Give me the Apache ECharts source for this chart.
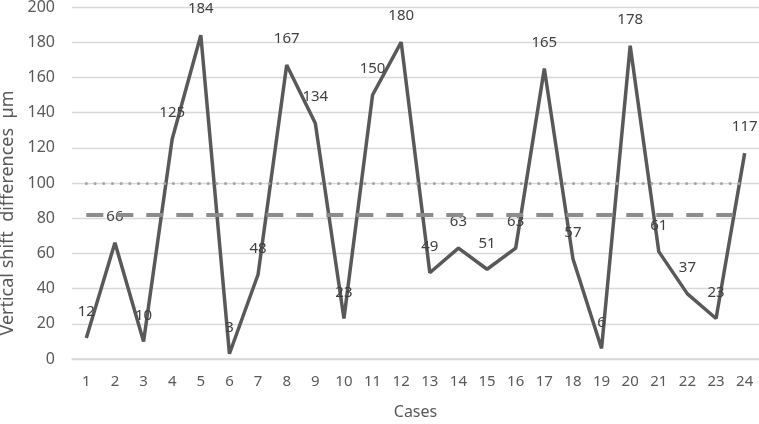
<!DOCTYPE html>
<html>
<head>
<meta charset="utf-8">
<script src="https://cdn.jsdelivr.net/npm/echarts@6/dist/echarts.min.js"></script>
<style>html,body{margin:0;padding:0;background:#fff}#c{width:759px;height:424px}</style>
</head>
<body>
<div id="c"></div>
<script>
const cases = ['1','2','3','4','5','6','7','8','9','10','11','12','13','14','15','16','17','18','19','20','21','22','23','24'];
const shiftDiff = [12,66,10,125,184,3,48,167,134,23,150,180,49,63,51,63,165,57,6,178,61,37,23,117];
const dottedRef = 100;
const dashedRef = 82;
const yTicks = {min:0, max:200, interval:20};

const font = 'Noto Sans';
const chart = echarts.init(document.getElementById('c'));
chart.setOption({
  animation:false,
  backgroundColor:'#fff',
  grid:{left:72, right:0, top:7, bottom:65, outerBoundsMode:'none', containLabel:false},
  xAxis:{
    type:'category', data:cases, boundaryGap:true,
    name:'Cases', nameLocation:'middle', nameGap:45,
    nameTextStyle:{color:'#595959', fontSize:16, fontFamily:font},
    axisLine:{show:true, lineStyle:{color:'#d9d9d9', width:1.5}},
    axisTick:{show:false},
    axisLabel:{color:'#595959', fontSize:15, fontFamily:font, margin:15, interval:0}
  },
  yAxis:{
    type:'value', min:yTicks.min, max:yTicks.max, interval:yTicks.interval,
    name:'Vertical shift  differences  µm', nameLocation:'middle', nameGap:49,
    nameTextStyle:{color:'#595959', fontSize:18, fontFamily:font, padding:[0,60,0,0]},
    axisLine:{show:false}, axisTick:{show:false},
    axisLabel:{color:'#595959', fontSize:16, fontFamily:font, margin:17},
    splitLine:{lineStyle:{color:'#d9d9d9', width:1.3}}
  },
  series:[{
    type:'line', data:shiftDiff, symbol:'circle', symbolSize:1, showSymbol:true,
    itemStyle:{color:'rgba(0,0,0,0)', borderWidth:0},
    lineStyle:{color:'#595959', width:3.5},
    label:{show:true, position:'top', distance:18, color:'#404040', fontSize:15, fontFamily:font},
    labelLayout:{hideOverlap:false},
    markLine:{
      silent:true, symbol:'none', label:{show:false},
      data:[
        [{coord:[cases[0], dottedRef], lineStyle:{color:'#a6a6a6', width:3, type:[0.1,8.6], cap:'round'}},
         {coord:[cases[cases.length-1], dottedRef]}],
        [{coord:[cases[0], dashedRef], lineStyle:{color:'#8c8c8c', width:4, type:[17,13], cap:'butt'}},
         {coord:[cases[cases.length-1], dashedRef]}]
      ]
    },
    z:3
  }]
});
</script>
</body>
</html>
